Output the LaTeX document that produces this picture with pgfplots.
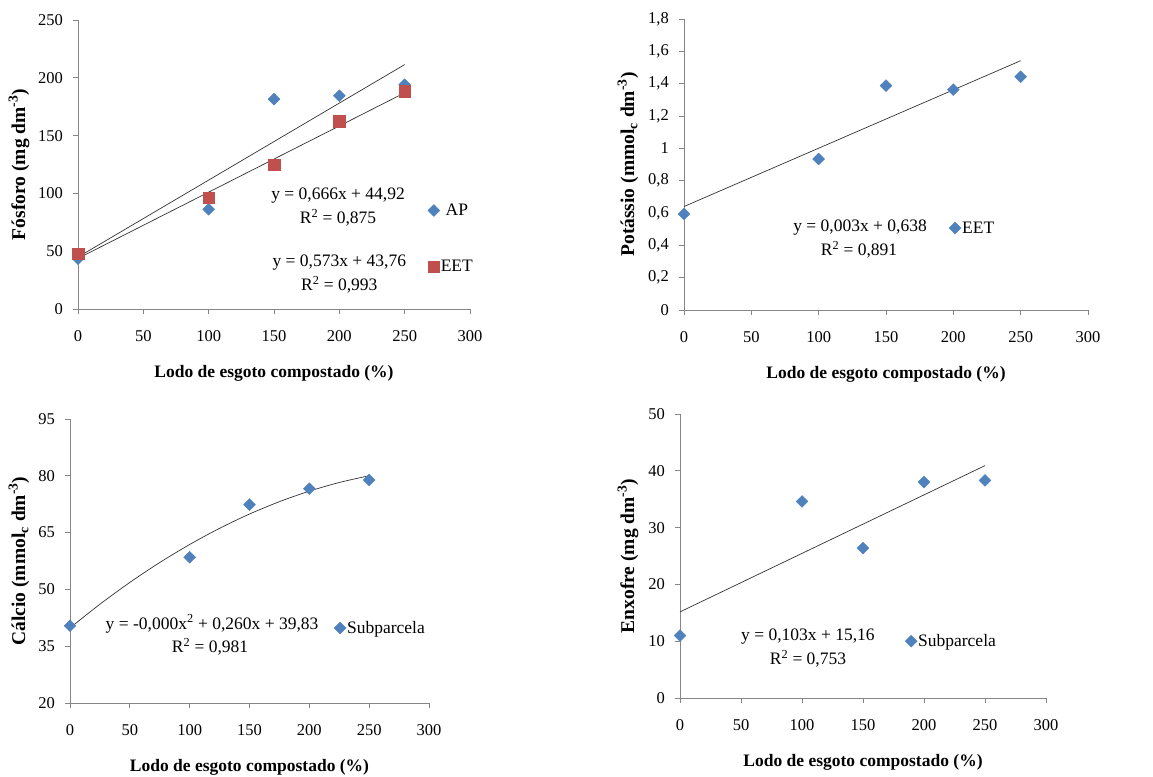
\documentclass[border=0pt]{standalone}
\usepackage{pgfplots}
\pgfplotsset{compat=1.18}
\usepackage{fontspec}
\setmainfont{Liberation Serif}
\definecolor{apblue}{HTML}{4F81BD}
\definecolor{eetred}{HTML}{C0504D}
\definecolor{axgray}{HTML}{868686}
\newcommand{\tfont}{\fontsize{16.5}{18}\selectfont}
\newcommand{\afont}{\fontsize{17.5}{19}\selectfont}
\pgfplotsset{
 exc/.style={
  scale only axis,
  axis x line*=bottom, axis y line*=left,
  axis line style={axgray, line width=0.8pt, -},
  every tick/.style={axgray, line width=0.8pt},
  major tick length=5pt,
  tick align=outside,
  xmin=0, xmax=300, xtick={0,50,...,300},
  enlargelimits=false, clip=false,
  /pgf/number format/assume math mode=true,
  /pgf/number format/use comma,
  tick label style={font=\tfont},
  xticklabel style={anchor=center, yshift=-22pt},
  yticklabel style={anchor=east, xshift=-10pt, inner sep=0pt},
  xlabel style={font=\fontsize{17.5}{20}\selectfont\bfseries},
  ylabel style={font=\fontsize{19.5}{22}\selectfont\bfseries},
  xlabel={Lodo de esgoto compostado (\%)},
  xlabel style={at={([yshift=-64pt]axis description cs:0.5,0)}, anchor=center},
  legend style={draw=none, fill=none, font=\afont, anchor=west, inner sep=0pt,
     nodes={inner sep=1pt}, /tikz/every even column/.append style={column sep=0pt}},
  legend image code/.code={\draw[mark repeat=2,mark phase=2,##1] plot coordinates {(0pt,0pt)(6pt,0pt)(12pt,0pt)};},
 },
 dia/.style={only marks, mark=square*, mark size=4.2pt, mark options={rotate=45, fill=apblue, draw=apblue}},
 sqr/.style={only marks, mark=square*, mark size=5.8pt, mark options={fill=eetred, draw=eetred}},
 trend/.style={black!80, line width=0.7pt, no marks, forget plot},
}
\begin{document}
\begin{tikzpicture}
\useasboundingbox (0,0) rectangle (1153pt,776pt);
% Top-left: Fosforo
\begin{axis}[exc, at={(78pt,467pt)}, anchor=south west, width=392pt, height=289pt,
  ymin=0, ymax=250, ytick={0,50,...,250},
  ylabel={Fósforo (mg dm\textsuperscript{-3})},
  ylabel style={at={([xshift=-59pt]axis description cs:0,0.5)}, anchor=center},
  legend style={at={([xshift=-7pt]axis cs:273,61)}, row sep=41pt}]
\addplot[dia] coordinates {(0,43.5)(100,86.3)(150,181.6)(200,184.5)(250,194)};
\addlegendentry{AP}
\addplot[sqr] coordinates {(0,47.9)(100,96.4)(150,124.7)(200,162.5)(250,188.5)};
\addlegendentry{EET}
\addplot[trend] coordinates {(0,44.92)(250,211.42)};
\addplot[trend] coordinates {(0,43.76)(250,187.01)};
\node[font=\afont] at (axis cs:199,97.7) {y = 0,666x + 44,92};
\node[font=\afont] at (axis cs:199,78.7) {R\textsuperscript{2} = 0,875};
\node[font=\afont] at (axis cs:200,39.8) {y = 0,573x + 43,76};
\node[font=\afont] at (axis cs:200,20.8) {R\textsuperscript{2} = 0,993};
\end{axis}
% Top-right: Potassio
\begin{axis}[exc, at={(684pt,466pt)}, anchor=south west, width=404pt, height=291pt,
  ymin=0, ymax=1.8, ytick={0,0.2,0.4,0.6,0.8,1,1.2,1.4,1.6,1.8},
  ylabel={Potássio (mmol\textsubscript{c} dm\textsuperscript{-3})},
  ylabel style={at={([xshift=-56pt]axis description cs:0,0.5)}, anchor=center},
  legend style={at={([xshift=-7pt]axis cs:202,0.507)}}]
\addplot[dia] coordinates {(0,0.594)(100,0.934)(150,1.388)(200,1.363)(250,1.443)};
\addlegendentry{EET}
\addplot[trend] coordinates {(0,0.640)(250,1.542)};
\node[font=\afont] at (axis cs:130.7,0.507) {y = 0,003x + 0,638};
\node[font=\afont] at (axis cs:130,0.371) {R\textsuperscript{2} = 0,891};
\end{axis}
% Bottom-left: Calcio
\begin{axis}[exc, at={(70pt,73pt)}, anchor=south west, width=359pt, height=284pt,
  ymin=20, ymax=95, ytick={20,35,...,95},
  ylabel={Cálcio (mmol\textsubscript{c} dm\textsuperscript{-3})},
  ylabel style={at={([xshift=-51pt]axis description cs:0,0.5)}, anchor=center},
  legend style={at={([xshift=-7pt]axis cs:226.5,39.8)}}]
\addplot[dia] coordinates {(0,40.4)(100,58.5)(150,72.4)(200,76.6)(250,78.9)};
\addlegendentry{Subparcela}
\addplot[trend, smooth] coordinates {(0,39.83)(25,46.08)(50,51.84)(75,57.10)(100,61.86)(125,66.13)(150,69.90)(175,73.17)(200,75.95)(225,78.23)(250,80.02)};
\node[font=\afont] at (axis cs:118.7,40.9) {y = -0,000x\textsuperscript{2} + 0,260x + 39,83};
\node[font=\afont] at (axis cs:117,34.8) {R\textsuperscript{2} = 0,981};
\end{axis}
% Bottom-right: Enxofre
\begin{axis}[exc, at={(680pt,78pt)}, anchor=south west, width=366pt, height=284pt,
  ymin=0, ymax=50, ytick={0,10,...,50},
  ylabel={Enxofre (mg dm\textsuperscript{-3})},
  ylabel style={at={([xshift=-52pt]axis description cs:0,0.5)}, anchor=center},
  legend style={at={([xshift=-7pt]axis cs:190.2,10.0)}}]
\addplot[dia] coordinates {(0,11.0)(100,34.6)(150,26.4)(200,38.0)(250,38.3)};
\addlegendentry{Subparcela}
\addplot[trend] coordinates {(0,15.16)(250,40.91)};
\node[font=\afont] at (axis cs:104.9,10.9) {y = 0,103x + 15,16};
\node[font=\afont] at (axis cs:104.9,6.9) {R\textsuperscript{2} = 0,753};
\end{axis}
\end{tikzpicture}
\end{document}
